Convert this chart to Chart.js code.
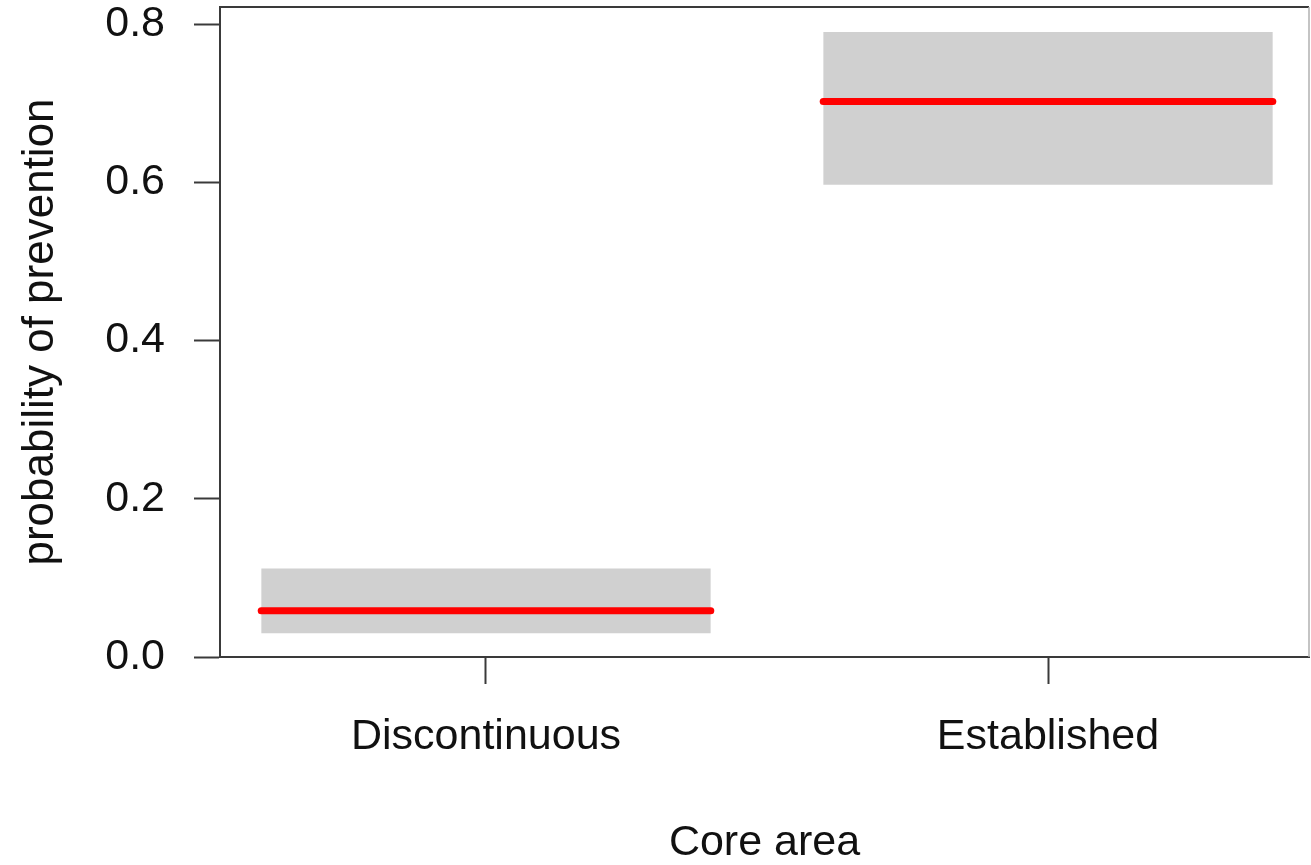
<!DOCTYPE html>
<html>
<head>
<meta charset="utf-8">
<title>Probability of prevention by core area</title>
<script src="https://cdn.jsdelivr.net/npm/chart.js@4"></script>
<style>
  html, body { margin: 0; padding: 0; background: #ffffff; }
  #wrap { position: relative; width: 1311px; height: 865px; }
</style>
</head>
<body>
<div id="wrap"><canvas id="chart" width="1311" height="865"></canvas></div>
<script>
// Effect estimates per core-area category, with confidence limits
const categories = ['Discontinuous', 'Established'];
const fitValues = [0.0585, 0.702];
const lowerValues = [0.030, 0.597];
const upperValues = [0.112, 0.790];
const yTickValues = [0.0, 0.2, 0.4, 0.6, 0.8];

const HALF = 0.4;           // half-width of each category segment (x units)
const FONT = "'Liberation Sans', Arial, Helvetica, sans-serif";
const INK = '#111111';
const FRAME = '#3a3a3a';

function segment(i, v) {
  const x = i + 1;
  return [{ x: x - HALF, y: v }, { x: x + HALF, y: v }];
}

const datasets = [];
categories.forEach((c, i) => {
  datasets.push({
    label: c + ' lower',
    data: segment(i, lowerValues[i]),
    borderWidth: 0,
    borderColor: 'rgba(0,0,0,0)',
    pointRadius: 0,
    fill: false,
    order: 2
  });
  datasets.push({
    label: c + ' upper',
    data: segment(i, upperValues[i]),
    borderWidth: 0,
    borderColor: 'rgba(0,0,0,0)',
    backgroundColor: '#d0d0d0',
    pointRadius: 0,
    fill: '-1',
    order: 2
  });
});
categories.forEach((c, i) => {
  datasets.push({
    label: c + ' fit',
    data: segment(i, fitValues[i]),
    borderColor: '#ff0000',
    borderWidth: 7,
    borderCapStyle: 'round',
    pointRadius: 0,
    fill: false,
    order: 0
  });
});

// top and right sides of the plotting frame
const framePlugin = {
  id: 'frame',
  afterDraw(chart) {
    const { ctx, chartArea: a } = chart;
    ctx.save();
    ctx.strokeStyle = FRAME;
    ctx.lineWidth = 2;
    ctx.beginPath();
    ctx.moveTo(a.left, a.top);
    ctx.lineTo(a.right, a.top);
    ctx.stroke();
    ctx.strokeStyle = '#b0b0b0';
    ctx.lineWidth = 1.5;
    ctx.beginPath();
    ctx.moveTo(a.right, a.top);
    ctx.lineTo(a.right, a.bottom);
    ctx.stroke();
    ctx.restore();
  }
};

new Chart(document.getElementById('chart'), {
  type: 'line',
  data: { datasets },
  plugins: [framePlugin],
  options: {
    responsive: false,
    animation: false,
    layout: { padding: { top: 7, right: 2, left: 0, bottom: 0 } },
    plugins: {
      legend: { display: false },
      tooltip: { enabled: false }
    },
    scales: {
      x: {
        type: 'linear',
        min: 0.5267,
        max: 2.4644,
        afterBuildTicks(scale) {
          scale.ticks = categories.map((_, i) => ({ value: i + 1 }));
        },
        afterFit(scale) {
          scale.height = 208;
          scale.paddingLeft = 0;
          scale.paddingRight = 0;
        },
        ticks: {
          autoSkip: false,
          maxRotation: 0,
          padding: 27,
          color: INK,
          font: { family: FONT, size: 43 },
          callback: (v) => categories[Math.round(v) - 1] || ''
        },
        grid: {
          drawOnChartArea: false,
          drawTicks: true,
          tickLength: 27,
          tickWidth: 2,
          tickColor: FRAME
        },
        border: { display: true, color: FRAME, width: 2 },
        title: {
          display: true,
          text: 'Core area',
          color: INK,
          font: { family: FONT, size: 43, lineHeight: 1.0 },
          padding: { top: 0, bottom: 0 }
        }
      },
      y: {
        type: 'linear',
        min: 0,
        max: 0.8215,
        afterBuildTicks(scale) {
          scale.ticks = yTickValues.map(v => ({ value: v }));
        },
        afterFit(scale) {
          scale.width = 220;
          scale.paddingTop = 0;
          scale.paddingBottom = 0;
        },
        ticks: {
          padding: 29,
          color: INK,
          font: { family: FONT, size: 43 },
          callback: (v) => Number(v).toFixed(1)
        },
        grid: {
          drawOnChartArea: false,
          drawTicks: true,
          tickLength: 26,
          tickWidth: 2,
          tickColor: FRAME
        },
        border: { display: true, color: FRAME, width: 2 },
        title: {
          display: true,
          text: 'probability of prevention',
          color: INK,
          font: { family: FONT, size: 44, lineHeight: 1.0 },
          padding: { top: 19, bottom: 0 }
        }
      }
    }
  }
});
</script>
</body>
</html>
